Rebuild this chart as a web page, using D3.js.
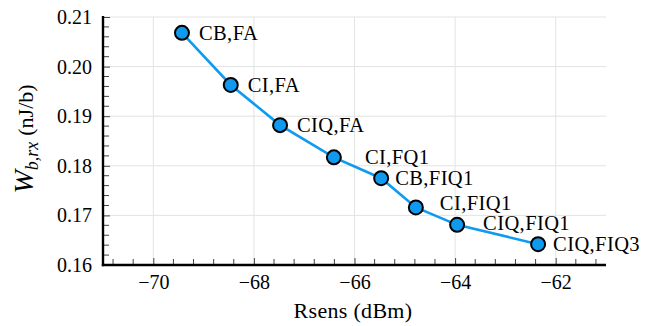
<!DOCTYPE html>
<html>
<head>
<meta charset="utf-8">
<script src="https://cdn.jsdelivr.net/npm/d3@7"></script>
<style>
  html, body { margin: 0; padding: 0; background: #fff; }
  svg { display: block; }
  #chart text { font-family: "Liberation Serif", "DejaVu Serif", serif !important; fill: #000; }
</style>
</head>
<body>
<svg id="chart" width="657" height="326"></svg>
<script>
// ---- data ----
const configs = ["CB,FA", "CI,FA", "CIQ,FA", "CI,FQ1", "CB,FIQ1", "CI,FIQ1", "CIQ,FIQ1", "CIQ,FIQ3"];
const rsens   = [-69.43, -68.46, -67.48, -66.41, -65.47, -64.78, -63.96, -62.35];
const wbrx    = [0.2068, 0.1963, 0.1882, 0.1817, 0.1775, 0.1716, 0.1681, 0.1642];
const xTicks  = [-70, -68, -66, -64, -62];
const yTicks  = [0.16, 0.17, 0.18, 0.19, 0.20, 0.21];

(function () {
// ---- layout ----
const svg = d3.select("#chart");
const pL = 103, pR = 606, pT = 17, pB = 265;
const x = d3.scaleLinear().domain([-71, -61]).range([pL, pR]);
const y = d3.scaleLinear().domain([0.16, 0.21]).range([pB, pT]);
const blue = "#0f9af0";

// grid
const grid = svg.append("g").attr("stroke", "#e3e3e3").attr("stroke-width", 1);
grid.selectAll("line.gx").data(xTicks).join("line").attr("class", "gx")
  .attr("x1", d => x(d)).attr("x2", d => x(d)).attr("y1", pT).attr("y2", pB);
grid.selectAll("line.gy").data(yTicks).join("line").attr("class", "gy")
  .attr("x1", pL).attr("x2", pR).attr("y1", d => y(d)).attr("y2", d => y(d));

// minor ticks (inward)
const xMinor = d3.range(-70.8, -61.0, 0.4).filter(v => Math.abs(v - Math.round(v)) > 1e-6 || Math.round(v) % 2 !== 0);
const yMinor = d3.range(0.162, 0.2100001, 0.002).filter(v => Math.abs(v * 100 - Math.round(v * 100)) > 1e-6);

const xAxis = d3.axisBottom(x).tickValues(xTicks).tickSizeInner(-7).tickSizeOuter(0)
  .tickFormat(d => "\u2212" + Math.abs(d)).tickPadding(10);
const yAxis = d3.axisLeft(y).tickValues(yTicks).tickSizeInner(-7).tickSizeOuter(0)
  .tickFormat(d3.format(".2f")).tickPadding(11);

const gx = svg.append("g").attr("transform", `translate(0,${pB})`).call(xAxis);
const gy = svg.append("g").attr("transform", `translate(${pL},0)`).call(yAxis);
[gx, gy].forEach(g => {
  g.attr("font-family", null);
  g.select(".domain").remove();
  g.selectAll(".tick line").attr("stroke", "#444").attr("stroke-width", 1);
  g.selectAll(".tick text").attr("font-size", 20);
});

svg.append("g").attr("stroke", "#444").attr("stroke-width", 1)
  .selectAll("line").data(xMinor).join("line")
  .attr("x1", d => x(d)).attr("x2", d => x(d)).attr("y1", pB).attr("y2", pB - 6);
svg.append("g").attr("stroke", "#444").attr("stroke-width", 1)
  .selectAll("line").data(yMinor).join("line")
  .attr("x1", pL).attr("x2", pL + 6).attr("y1", d => y(d)).attr("y2", d => y(d));

// spines
svg.append("line").attr("x1", pL).attr("x2", pL).attr("y1", pT - 1).attr("y2", pB + 1.2)
  .attr("stroke", "#000").attr("stroke-width", 2.4);
svg.append("line").attr("x1", pL - 1.2).attr("x2", pR).attr("y1", pB).attr("y2", pB)
  .attr("stroke", "#000").attr("stroke-width", 2.4);

// series
const pts = rsens.map((v, i) => ({ x: v, y: wbrx[i], label: configs[i] }));
svg.append("path").datum(pts)
  .attr("fill", "none").attr("stroke", blue).attr("stroke-width", 2.6)
  .attr("d", d3.line().x(d => x(d.x)).y(d => y(d.y)));
svg.append("g").selectAll("circle").data(pts).join("circle")
  .attr("cx", d => x(d.x)).attr("cy", d => y(d.y)).attr("r", 7)
  .attr("fill", blue).attr("stroke", "#000").attr("stroke-width", 2);

// point label nudges (px): [dx, dy]
const labelNudge = [[17, 0], [17, 0], [17, 0], [31, -1], [14, 0], [24, -5], [26, -2], [15, 0]];
svg.append("g").selectAll("text").data(pts).join("text")
  .attr("x", (d, i) => x(d.x) + labelNudge[i][0])
  .attr("y", (d, i) => y(d.y) + labelNudge[i][1])
  .attr("dy", "0.35em")
  .attr("font-size", 20.5)
  .attr("letter-spacing", 0.4)
  .text(d => d.label);

// axis titles
svg.append("text").attr("x", 353).attr("y", 318)
  .attr("text-anchor", "middle").attr("font-size", 22).attr("letter-spacing", 0.3).text("Rsens (dBm)");

const yl = svg.append("text")
  .attr("transform", "translate(33,139) rotate(-90)")
  .attr("text-anchor", "middle").attr("font-size", 22);
yl.append("tspan").attr("font-style", "italic").attr("font-size", 28).text("W");
yl.append("tspan").attr("font-style", "italic").attr("font-size", 18).attr("dy", 5).text("b,rx");
yl.append("tspan").attr("dy", -5).attr("dx", 6).text("(nJ/b)");
})();
</script>
</body>
</html>
